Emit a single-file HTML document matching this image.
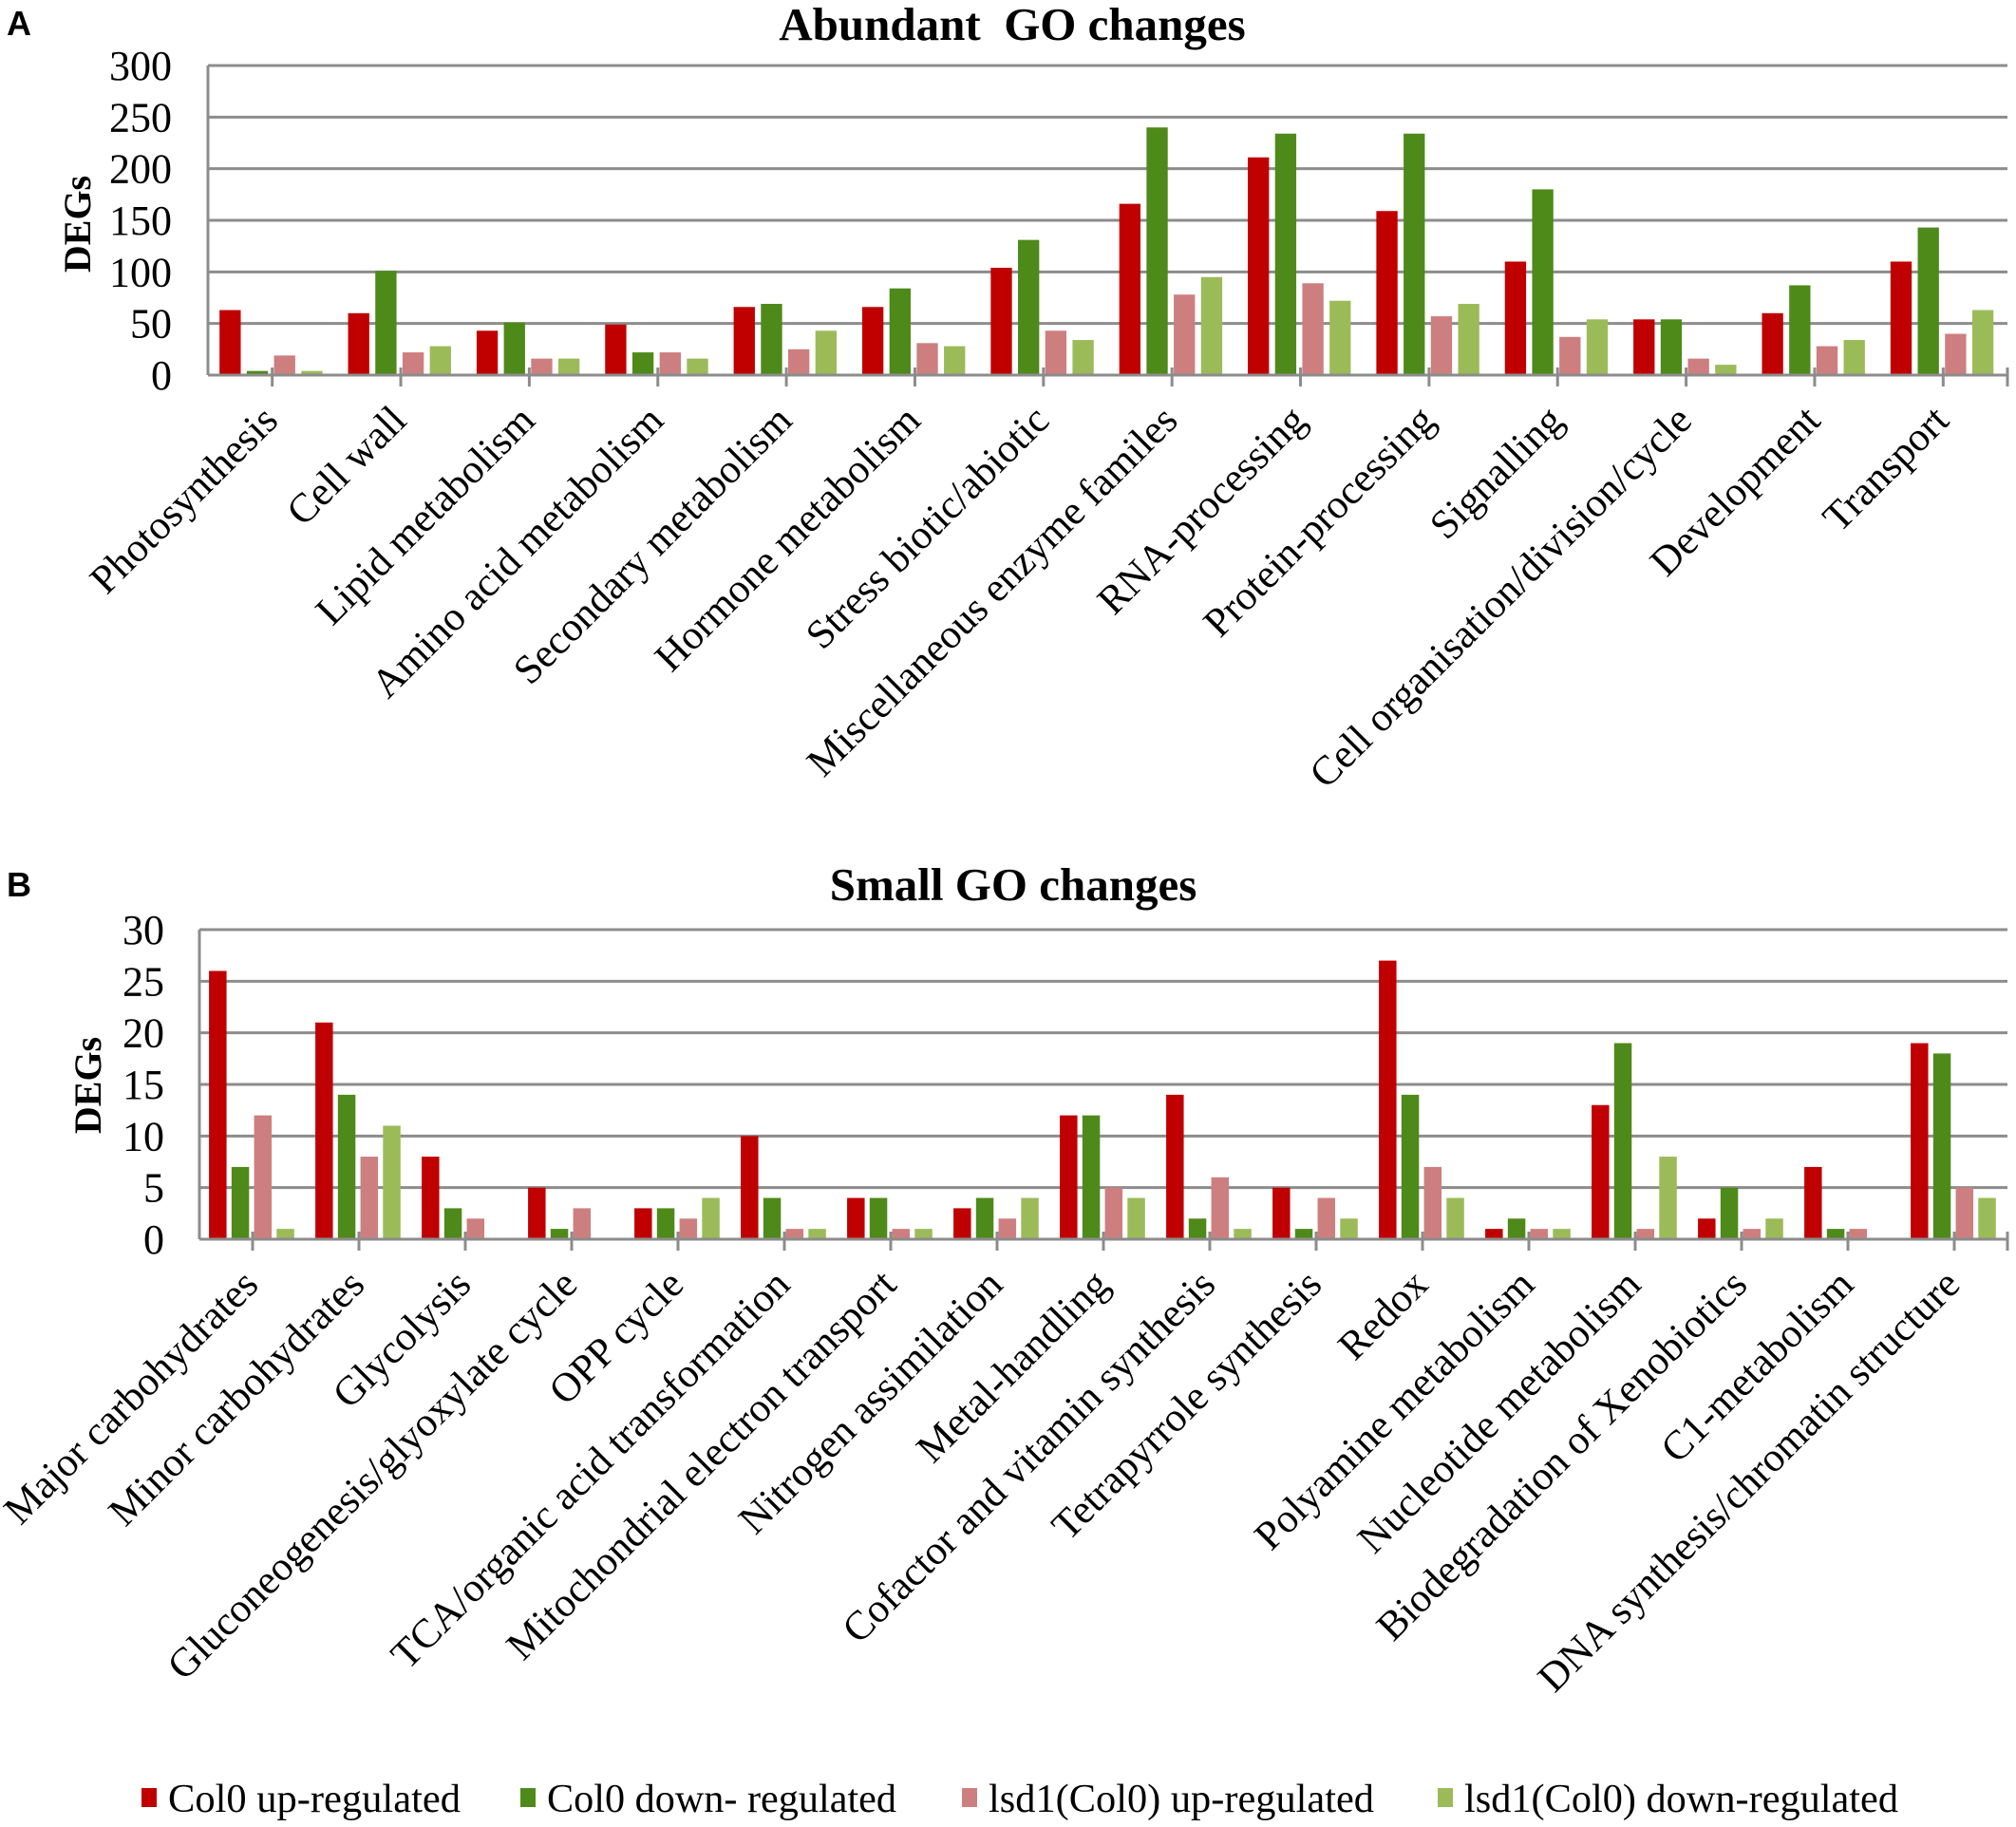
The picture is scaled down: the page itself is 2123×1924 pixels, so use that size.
<!DOCTYPE html>
<html><head><meta charset="utf-8">
<style>
html,body{margin:0;padding:0;background:#fff;}
svg{display:block;}
text{font-family:"Liberation Serif",serif;fill:#000;}
</style></head>
<body>
<svg id="chart" width="2123" height="1924" viewBox="0 0 2123 1924" xmlns="http://www.w3.org/2000/svg">
<text x="7" y="37" style="font-family:'Liberation Sans',sans-serif;font-weight:bold;font-size:36px">A</text>
<text x="1066" y="42" text-anchor="middle" xml:space="preserve" style="font-weight:bold;font-size:49px">Abundant  GO changes</text>
<text x="7" y="944" style="font-family:'Liberation Sans',sans-serif;font-weight:bold;font-size:36px">B</text>
<text x="1067" y="948" text-anchor="middle" style="font-weight:bold;font-size:49px">Small GO changes</text>
<g id="gA"></g>
<g id="gB"></g>
<g id="legend"></g>
</svg>
<script>
const catsA = ["Photosynthesis","Cell wall","Lipid metabolism","Amino acid metabolism","Secondary metabolism","Hormone metabolism","Stress biotic/abiotic","Miscellaneous enzyme familes","RNA-processing","Protein-processing","Signalling","Cell organisation/division/cycle","Development","Transport"];
const colUpA = [63,60,43,49,66,66,104,166,211,159,110,54,60,110];
const colDownA = [4,101,51,22,69,84,131,240,234,234,180,54,87,143];
const lsdUpA = [19,22,16,22,25,31,43,78,89,57,37,16,28,40];
const lsdDownA = [4,28,16,16,43,28,34,95,72,69,54,10,34,63];
const ticksA = [0,50,100,150,200,250,300];

const catsB = ["Major carbohydrates","Minor carbohydrates","Glycolysis","Gluconeogenesis/glyoxylate cycle","OPP cycle","TCA/organic acid transformation","Mitochondrial electron transport","Nitrogen assimilation","Metal-handling","Cofactor and vitamin synthesis","Tetrapyrrole synthesis","Redox","Polyamine metabolism","Nucleotide metabolism","Biodegradation of Xenobiotics","C1-metabolism","DNA synthesis/chromatin structure"];
const colUpB = [26,21,8,5,3,10,4,3,12,14,5,27,1,13,2,7,19];
const colDownB = [7,14,3,1,3,4,4,4,12,2,1,14,2,19,5,1,18];
const lsdUpB = [12,8,2,3,2,1,1,2,5,6,4,7,1,1,1,1,5];
const lsdDownB = [1,11,0,0,4,1,1,4,4,1,2,4,1,8,2,0,4];
const ticksB = [0,5,10,15,20,25,30];

const seriesNames = ["Col0 up-regulated","Col0 down- regulated","lsd1(Col0) up-regulated","lsd1(Col0) down-regulated"];
const colors = ["#C00000","#4E8A1A","#CD7F7F","#9BBB59"];
const NS = "http://www.w3.org/2000/svg";

function mk(tag, attrs, parent){
  const e = document.createElementNS(NS, tag);
  for (const k in attrs) e.setAttribute(k, attrs[k]);
  parent.appendChild(e);
  return e;
}

function draw(g, cats, series, ticks, L, R, T, B, tickRight, degX, degY, prefix){
  const max = ticks[ticks.length-1];
  const y = v => B - v/max*(B-T);
  const cw = (R-L)/cats.length;
  const x = i => L + i*cw;
  ticks.forEach(t=>{
    const ln = mk("line",{x1:L,x2:R,y1:y(t),y2:y(t),stroke:"#8c8c8c","stroke-width":3},g);
    
    
    const tx = mk("text",{x:tickRight,y:y(t)+15,"text-anchor":"end","font-size":44},g);
    
    
    tx.textContent = t;
  });
  const ax = mk("line",{x1:L,x2:L,y1:T,y2:B,stroke:"#8c8c8c","stroke-width":3},g);
  
  
  const yt = mk("text",{x:0,y:0,"text-anchor":"middle","font-size":40,"font-weight":"bold",transform:`translate(${degX},${degY}) rotate(-90)`},g);
  
  
  yt.textContent = "DEGs";
  cats.forEach((c,i)=>{
    series.forEach((s,j)=>{
      const bx = x(i) + cw*0.09 + j*cw*0.212;
      const r = mk("rect",{x:bx,y:y(s[i]),width:cw*0.165,height:B-y(s[i]),fill:colors[j]},g);
      
      
    });
    const tk = mk("line",{x1:x(i)+cw/2,x2:x(i)+cw/2,y1:B-8,y2:B+12,stroke:"#8c8c8c","stroke-width":3},g);
    
    
    const lx = x(i)+cw/2+8, ly = B+50;
    const lb = mk("text",{x:lx,y:ly,"text-anchor":"end","font-size":43,transform:`rotate(-45 ${lx} ${ly})`},g);
    
    
    lb.textContent = c;
  });
  const xa = mk("line",{x1:L,x2:R,y1:B,y2:B,stroke:"#8c8c8c","stroke-width":3},g);
  
  
  const re = mk("line",{x1:R,x2:R,y1:B-8,y2:B+12,stroke:"#8c8c8c","stroke-width":3},g);
  
  
}

draw(document.getElementById("gA"), catsA, [colUpA,colDownA,lsdUpA,lsdDownA], ticksA, 219, 2114, 69, 395, 181, 95, 236, "chart-a");
draw(document.getElementById("gB"), catsB, [colUpB,colDownB,lsdUpB,lsdDownB], ticksB, 210, 2114, 979, 1305, 173, 106, 1143, "chart-b");

const legX = [149,548,1013,1514];
const legW = [308,368,406,457];
const lg = document.getElementById("legend");
seriesNames.forEach((n,i)=>{
  const sq = mk("rect",{x:legX[i],y:1883,width:16,height:20,fill:colors[i]},lg);
  
  
  const t = mk("text",{x:legX[i]+28,y:1908,"font-size":42,textLength:legW[i],lengthAdjust:"spacingAndGlyphs"},lg);
  
  
  t.textContent = n;
});
</script>
</body></html>
